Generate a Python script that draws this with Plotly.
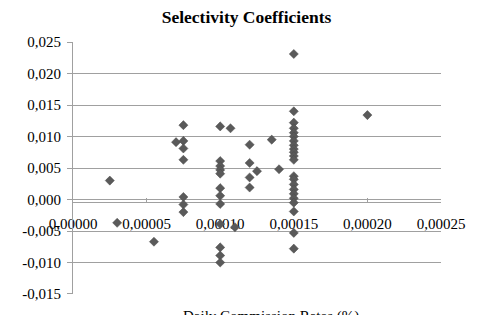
import plotly.graph_objects as go

commission = [0.000025, 0.00003, 0.000055, 0.00007,
              0.000075, 0.000075, 0.000075, 0.000075, 0.000075, 0.000075, 0.000075,
              0.0001, 0.0001, 0.0001, 0.0001, 0.0001, 0.0001, 0.0001, 0.0001, 0.0001, 0.0001, 0.0001, 0.0001,
              0.000107, 0.00011,
              0.00012, 0.00012, 0.00012, 0.00012,
              0.000125, 0.000135, 0.00014,
              0.00015, 0.00015, 0.00015, 0.00015, 0.00015, 0.00015, 0.00015, 0.00015, 0.00015, 0.00015, 0.00015,
              0.00015, 0.00015, 0.00015, 0.00015, 0.00015, 0.00015, 0.00015, 0.00015, 0.00015, 0.00015, 0.00015,
              0.0002]
selectivity = [0.0030, -0.0037, -0.0067, 0.0091,
               0.0118, 0.0093, 0.0081, 0.0063, 0.0004, -0.0008, -0.0020,
               0.0116, 0.0061, 0.0053, 0.0047, 0.0041, 0.0018, 0.0006, -0.0007, -0.0039, -0.0076, -0.0089, -0.0100,
               0.0113, -0.0044,
               0.0087, 0.0058, 0.0035, 0.0019,
               0.0045, 0.0095, 0.0048,
               0.0231, 0.0140, 0.0122, 0.0113, 0.0106, 0.0100, 0.0093, 0.0086, 0.0080, 0.0075, 0.0069,
               0.0063, 0.0037, 0.0032, 0.0024, 0.0016, 0.0009, 0.0002, -0.0005, -0.0019, -0.0053, -0.0078,
               0.0134]

x_tickvals = [0, 0.00005, 0.0001, 0.00015, 0.0002, 0.00025]
x_ticktext = ["0,00000", "0,00005", "0,00010", "0,00015", "0,00020", "0,00025"]
y_tickvals = [-0.015, -0.01, -0.005, 0, 0.005, 0.01, 0.015, 0.02, 0.025]
y_ticktext = ["-0,015", "-0,010", "-0,005", "0,000", "0,005", "0,010", "0,015", "0,020", "0,025"]

W, H = 492, 315
ml, mr, mt, mb = 73, 51, 42, 21
ymin, ymax = -0.015, 0.025
plot_h = H - mt - mb
zero_pos = (mb + (0 - ymin) / (ymax - ymin) * plot_h) / H

serif = "Liberation Serif, Times New Roman, serif"
gray = "#a0a0a0"

fig = go.Figure(go.Scatter(
    x=commission, y=selectivity, mode="markers",
    marker=dict(symbol="diamond", size=7, color="#5a5a5a",
                line=dict(color="#4a4a4a", width=0.5)),
    showlegend=False,
))

fig.update_layout(
    width=W, height=H,
    margin=dict(l=ml, r=mr, t=mt, b=mb),
    paper_bgcolor="white", plot_bgcolor="white",
    font=dict(family=serif, size=15, color="black"),
    title=dict(text="<b>Selectivity Coefficients</b>", x=(246.5) / W, xanchor="center",
               y=1 - 17 / H, yanchor="middle", font=dict(family=serif, size=17.5, color="black")),
    xaxis=dict(range=[0, 0.00025], tickvals=x_tickvals, ticktext=x_ticktext,
               anchor="free", position=zero_pos, showgrid=False, zeroline=False,
               showline=True, linecolor=gray, linewidth=1,
               ticks="inside", ticklen=4, tickcolor=gray,
               ticklabelstandoff=8, layer="below traces",
               tickfont=dict(family=serif, size=15, color="black")),
    yaxis=dict(range=[ymin - 1e-6, ymax + 1e-6], tickvals=y_tickvals, ticktext=y_ticktext,
               showgrid=True, gridcolor=gray, gridwidth=1, zeroline=False,
               showline=True, linecolor=gray, linewidth=1,
               ticks="outside", ticklen=5, tickcolor=gray,
               ticklabelstandoff=3,
               tickfont=dict(family=serif, size=15, color="black")),
    annotations=[dict(text="Daily Commission Rates (%)", xref="paper", yref="paper",
                      x=(271 - ml) / (W - ml - mr), y=-(306 - (H - mb)) / plot_h,
                      xanchor="center", yanchor="top", showarrow=False,
                      font=dict(family=serif, size=15, color="black"))],
)

fig.write_html("out.html")
